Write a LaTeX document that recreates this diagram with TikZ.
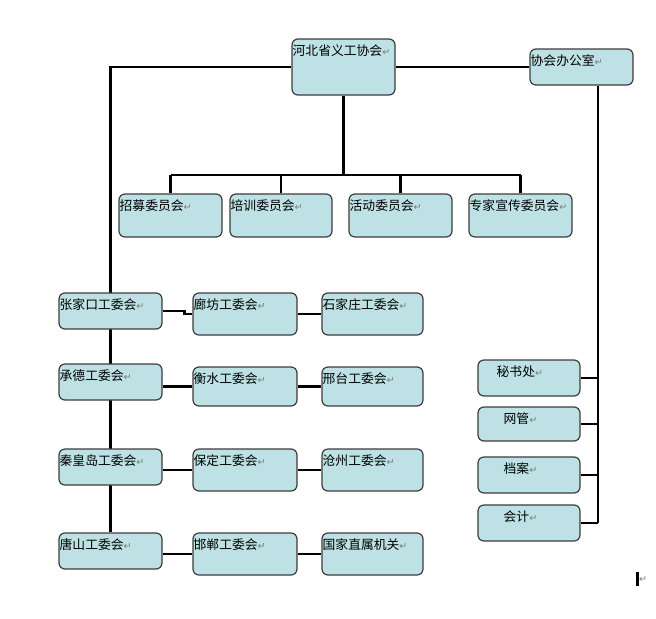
\documentclass[tikz,border=0pt]{standalone}
\usepackage{fontspec}
\newfontfamily\cjkfont{Noto Sans CJK SC}
\newfontfamily\markfont{DejaVu Sans}
\usetikzlibrary{backgrounds}
\definecolor{BoxFill}{HTML}{BDE1E4}
\definecolor{BoxLine}{HTML}{3C3C3C}
\definecolor{MarkGray}{HTML}{7C7C7C}
\newcommand{\retmark}{{\markfont\fontsize{7.2}{8}\selectfont\textcolor{MarkGray}{↵}}}
\tikzset{
  orgbox/.style={draw=BoxLine,fill=BoxFill,line width=0.9pt,
    rounded corners=4.5pt,inner sep=0pt},
  orglab/.style={font=\cjkfont\fontsize{9.6}{11}\selectfont,
    inner sep=0pt,anchor=west},
  link/.style={line width=2.2pt,black},
}

\begin{document}
\begin{tikzpicture}[x=0.75pt,y=-0.75pt]
  \useasboundingbox (0,0) rectangle (656,618);
  % boxes: name / left / top / right / bottom / text indent / label
  \foreach \nm/\xa/\ya/\xb/\yb/\dx/\lab in {
      main/292/39/395/95/1/河北省义工协会,
      office/530/49/633/85/1/协会办公室,
      zhaomu/119/194/222/237/1/招募委员会,
      peixun/230/194/332/237/1/培训委员会,
      huodong/349/194/452/237/1/活动委员会,
      zhuanjia/469/194/572/237/1/专家宣传委员会,
      zjk/59/293/162/329/1/张家口工委会,
      langfang/193/293/297/335/1/廊坊工委会,
      sjz/322/293/423/335/1/石家庄工委会,
      chengde/59/364/162/400/1/承德工委会,
      hengshui/193/367/297/406/1/衡水工委会,
      xingtai/322/367/423/406/1/邢台工委会,
      qhd/59/449/162/485/1/秦皇岛工委会,
      baoding/193/449/297/491/1/保定工委会,
      cangzhou/322/449/423/491/1/沧州工委会,
      tangshan/59/533/162/569/1/唐山工委会,
      handan/193/533/297/575/1/邯郸工委会,
      guojia/322/533/423/575/1/国家直属机关,
      mishu/478/360/580/396/19/秘书处,
      wangguan/478/407/580/441/26/网管,
      dangan/478/457/580/493/26/档案,
      kuaiji/478/505/580/541/26/会计}{
    \node[orgbox,minimum width={(\xb-\xa)*0.75pt},
      minimum height={(\yb-\ya)*0.75pt}]
      (\nm) at ({(\xa+\xb)/2},{(\ya+\yb)/2}) {};
    \node[orglab] (\nm-t) at ([xshift={\dx*0.75pt},yshift=-9pt]\nm.north west)
      {\lab\retmark};
  }
  \coordinate (bar) at (342,175);
  \coordinate (offbus) at (598,523);
  \begin{scope}[on background layer]
    \draw[link] (main.west) -| (tangshan.north);
    \draw[link] (main.east) -- (office.west);
    % committees hang from one bar
    \draw[link] (main.south) -- (main.south |- bar);
    \draw[link] (zhaomu.north |- bar) -- (zhuanjia.north |- bar);
    \foreach \c in {zhaomu,peixun,huodong,zhuanjia}
      \draw[link] (\c.north) -- (\c.north |- bar);
    % office bus on the right
    \draw[link] (office.south -| offbus) -- (offbus);
    \foreach \r in {mishu,wangguan,dangan,kuaiji}
      \draw[link] (\r.east) -- (\r.east -| offbus);
    % city rows
    \draw[link] (zjk.east) -- ++(22,0) |- (langfang.west);
    \draw[link] (langfang.east) -- (sjz.west);
    \foreach \a/\b/\c in {chengde/hengshui/xingtai,qhd/baoding/cangzhou,
                          tangshan/handan/guojia}{
      \draw[link] (\a.east |- \b.west) -- (\b.west);
      \draw[link] (\b.east) -- (\c.west);
    }
  \end{scope}
  \node[inner sep=0pt,anchor=west] (cursor) at (636,579)
    {\rule[-2.5pt]{2.2pt}{10.5pt}\retmark};
\end{tikzpicture}
\end{document}
